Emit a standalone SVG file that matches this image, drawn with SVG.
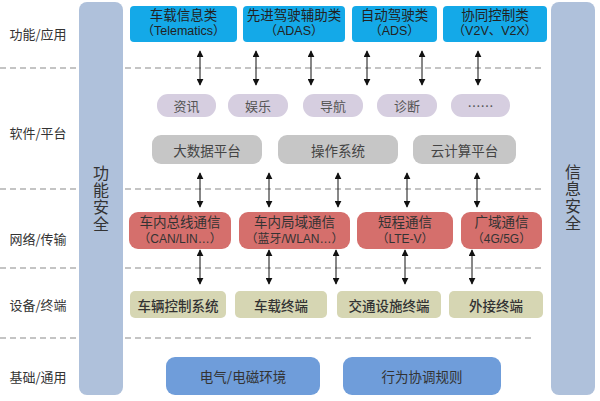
<svg xmlns="http://www.w3.org/2000/svg" width="600" height="401" viewBox="0 0 600 401">
<defs>
<marker id="ah" viewBox="0 0 10 10" refX="9" refY="5" markerWidth="7" markerHeight="7" markerUnits="userSpaceOnUse" orient="auto-start-reverse">
<path d="M0,0 L10,5 L0,10 z" fill="#111"/>
</marker>
<style>
text{font-family:"Noto Sans CJK SC","Noto Sans",sans-serif;text-anchor:middle;dominant-baseline:central;fill:#333}
.two{font-family:"Liberation Sans","Noto Sans CJK SC",sans-serif}
.lbl{font-size:13px;fill:#333}
.pil{fill:#AFC1DB}
.pt{font-size:16px;fill:#333;writing-mode:vertical-rl;letter-spacing:1px}
.dash{stroke:#8a8a8a;stroke-width:1.2;stroke-dasharray:6 4;fill:none}
.app rect{fill:#14A9E8}
.app text{font-size:13.5px;fill:#222}
.app .s{font-size:12.5px}
.sw rect{fill:#D6CEE0}
.sw text{font-size:13px;fill:#555}
.pf rect{fill:#C6C6C6}
.pf text{font-size:13.5px;fill:#444}
.nw rect{fill:#D56F6C}
.nw text{font-size:13.5px;fill:#333}
.nw .s{font-size:12px}
.dv rect{fill:#D6D6B3}
.dv text{font-size:13.5px;fill:#333;font-weight:500}
.bs rect{fill:#6F9DDA}
.bs text{font-size:13.5px;fill:#333}
.arr line{stroke:#111;stroke-width:1;marker-start:url(#ah);marker-end:url(#ah)}
</style>
</defs>
<rect width="600" height="401" fill="#fff"/>

<g id="layer-lines">
<line class="dash" x1="0" y1="68" x2="77" y2="68"/><line class="dash" x1="125" y1="68" x2="545" y2="68"/>
<line class="dash" x1="0" y1="189" x2="77" y2="189"/><line class="dash" x1="125" y1="189" x2="545" y2="189"/>
<line class="dash" x1="0" y1="268" x2="77" y2="268"/><line class="dash" x1="125" y1="268" x2="545" y2="268"/>
<line class="dash" x1="0" y1="338" x2="77" y2="338"/><line class="dash" x1="125" y1="338" x2="532" y2="338"/>
</g>

<g id="layer-labels">
<text class="lbl" x="38" y="33">功能/应用</text>
<text class="lbl" x="38" y="132">软件/平台</text>
<text class="lbl" x="38" y="238">网络/传输</text>
<text class="lbl" x="38" y="304">设备/终端</text>
<text class="lbl" x="38" y="376">基础/通用</text>
</g>

<g id="func-safety">
<rect class="pil" x="79" y="2" width="44" height="393" rx="8"/>
<text class="pt" x="101" y="199">功能安全</text>
</g>
<g id="info-security">
<rect class="pil" x="551" y="2" width="44" height="393" rx="8"/>
<text class="pt" x="573" y="198">信息安全</text>
</g>

<g id="app-telematics" class="app"><rect x="130" y="6" width="107" height="36" rx="4"/><text class="two" x="183.5" y="15">车载信息类</text><text class="two s" x="183.5" y="31">（Telematics）</text></g>
<g id="app-adas" class="app"><rect x="243" y="6" width="102" height="36" rx="4"/><text class="two" x="294" y="15">先进驾驶辅助类</text><text class="two s" x="294" y="31">（ADAS）</text></g>
<g id="app-ads" class="app"><rect x="352" y="6" width="85" height="36" rx="4"/><text class="two" x="394.5" y="15">自动驾驶类</text><text class="two s" x="394.5" y="31">（ADS）</text></g>
<g id="app-v2x" class="app"><rect x="443" y="6" width="104" height="36" rx="4"/><text class="two" x="495" y="15">协同控制类</text><text class="two s" x="495" y="31">（V2V、V2X）</text></g>

<g id="sw-news" class="sw"><rect x="157" y="94" width="59" height="23" rx="11"/><text x="186.5" y="105.5">资讯</text></g>
<g id="sw-ent" class="sw"><rect x="228" y="94" width="60" height="23" rx="11"/><text x="258" y="105.5">娱乐</text></g>
<g id="sw-nav" class="sw"><rect x="303" y="94" width="60" height="23" rx="11"/><text x="333" y="105.5">导航</text></g>
<g id="sw-diag" class="sw"><rect x="377" y="94" width="60" height="23" rx="11"/><text x="407" y="105.5">诊断</text></g>
<g id="sw-more" class="sw"><rect x="451" y="94" width="59" height="23" rx="11"/><text x="480.5" y="105.5">……</text></g>

<g id="pf-bigdata" class="pf"><rect x="152" y="135" width="110" height="29" rx="9"/><text x="207" y="149.5">大数据平台</text></g>
<g id="pf-os" class="pf"><rect x="278" y="135" width="120" height="29" rx="9"/><text x="338" y="149.5">操作系统</text></g>
<g id="pf-cloud" class="pf"><rect x="413" y="135" width="103" height="29" rx="9"/><text x="464.5" y="149.5">云计算平台</text></g>

<g id="nw-bus" class="nw"><rect x="129" y="212" width="102" height="37" rx="9"/><text class="two" x="180" y="222.5">车内总线通信</text><text class="two s" x="180" y="238.5">（CAN/LIN…）</text></g>
<g id="nw-lan" class="nw"><rect x="239" y="212" width="111" height="37" rx="9"/><text class="two" x="294.5" y="222.5">车内局域通信</text><text class="two s" x="294.5" y="238.5">（蓝牙/WLAN…）</text></g>
<g id="nw-short" class="nw"><rect x="357" y="212" width="96" height="37" rx="9"/><text class="two" x="405" y="222.5">短程通信</text><text class="two s" x="405" y="238.5">（LTE-V）</text></g>
<g id="nw-wide" class="nw"><rect x="461" y="212" width="81" height="37" rx="9"/><text class="two" x="501.5" y="222.5">广域通信</text><text class="two s" x="501.5" y="238.5">（4G/5G）</text></g>

<g id="dv-vcs" class="dv"><rect x="130" y="291" width="96" height="27" rx="5"/><text x="178" y="304.5">车辆控制系统</text></g>
<g id="dv-onboard" class="dv"><rect x="235" y="291" width="92" height="27" rx="5"/><text x="281" y="304.5">车载终端</text></g>
<g id="dv-traffic" class="dv"><rect x="337" y="291" width="104" height="27" rx="5"/><text x="389" y="304.5">交通设施终端</text></g>
<g id="dv-ext" class="dv"><rect x="449" y="291" width="94" height="27" rx="5"/><text x="496" y="304.5">外接终端</text></g>

<g id="bs-emc" class="bs"><rect x="166" y="357" width="154" height="38" rx="9"/><text x="243" y="376">电气/电磁环境</text></g>
<g id="bs-rules" class="bs"><rect x="343" y="357" width="158" height="38" rx="9"/><text x="422" y="376">行为协调规则</text></g>

<g id="connectors" class="arr">
<line x1="200" y1="51" x2="200" y2="85"/><line x1="256" y1="51" x2="256" y2="85"/><line x1="311" y1="51" x2="311" y2="85"/>
<line x1="367" y1="51" x2="367" y2="85"/><line x1="422" y1="51" x2="422" y2="85"/><line x1="478" y1="51" x2="478" y2="85"/>
<line x1="200" y1="173" x2="200" y2="207"/><line x1="269" y1="173" x2="269" y2="207"/><line x1="338" y1="173" x2="338" y2="207"/>
<line x1="407" y1="173" x2="407" y2="207"/><line x1="477" y1="173" x2="477" y2="207"/>
<line x1="200" y1="250" x2="200" y2="284"/><line x1="269" y1="250" x2="269" y2="284"/><line x1="336" y1="250" x2="336" y2="284"/>
<line x1="405" y1="250" x2="405" y2="284"/><line x1="472" y1="250" x2="472" y2="284"/>
</g>
</svg>
